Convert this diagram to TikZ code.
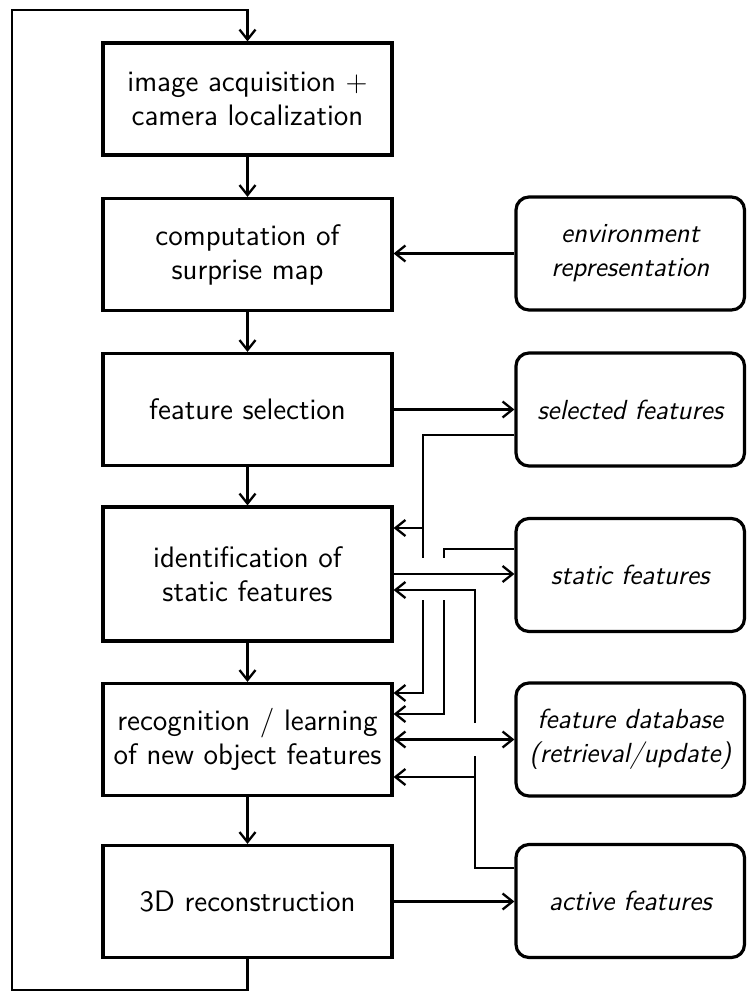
\documentclass[tikz,border=0pt]{standalone}
\usetikzlibrary{arrows.meta}
\begin{document}
\begin{tikzpicture}[x=0.5pt,y=-0.5pt,
  >={Straight Barb[length=5pt,width=8pt]},
  proc/.style={draw, line width=1.6pt, minimum width=144.5pt, minimum height=56pt,
    align=center, inner sep=1pt, font=\sffamily\fontsize{14.8}{17}\selectfont},
  store/.style={draw, rounded corners=6.5pt, line width=1.6pt, minimum width=114.25pt,
    minimum height=56.5pt, align=center, inner sep=1pt,
    font=\sffamily\itshape\fontsize{13.8}{17}\selectfont},
  flow/.style={line width=1.15pt, ->},
  link/.style={line width=1.15pt}]
\useasboundingbox (0,0) rectangle (746,992);

% processing steps
\node[proc] (b1) at (247.5,99) {image acquisition $+$\\camera localization};
\node[proc] (b2) at (247.5,254.5) {computation of\\surprise map};
\node[proc] (b3) at (247.5,409.5) {feature selection};
\node[proc, minimum height=67pt] (b4) at (247.5,574) {identification of\\static features};
\node[proc] (b5) at (247.5,739.5) {recognition / learning\\of new object features};
\node[proc] (b6) at (247.5,901.5) {3D reconstruction};

% data stores
\node[store] (env)  at (630.25,253.5) {environment\\representation};
\node[store] (sel)  at (630.25,409.5) {selected features};
\node[store] (stat) at (630.25,575) {static features};
\node[store] (fdb)  at (630.25,739.5) {feature database\\(retrieval/update)};
\node[store] (act)  at (630.25,901) {active features};

% main chain
\foreach \a/\b in {b1/b2,b2/b3,b3/b4,b4/b5,b5/b6}
  \draw[flow] (\a) -- (\b);

% loop back to the top
\coordinate (lb) at (247.5,990);
\coordinate (lbl) at (12,990);
\coordinate (ltl) at (12,10);
\coordinate (lt) at (247.5,10);
\draw[flow] (b6.south) -- (lb) -- (lbl) -- (ltl) -- (lt) -- (b1.north);

% straight links to the stores
\draw[flow] (env.west) -- (env.west -| b2.east);
\draw[flow] (b3.east) -- (b3.east -| sel.west);
\draw[flow] (b4.east) -- (b4.east -| stat.west);
\draw[flow, <->] (b5.east) -- (b5.east -| fdb.west);
\draw[flow] (b6.east) -- (b6.east -| act.west);

% selected features back into identification and recognition
\coordinate (s1) at (423,435);
\coordinate (s2) at (423,558);
\coordinate (s3) at (423,600);
\coordinate (s4) at (423,693);
\coordinate (s5) at (423,528);
\draw[link] (sel.west |- s1) -- (s1) -- (s2);
\draw[flow] (s3) -- (s4) -- (s4 -| b5.east);
\draw[flow] (s5) -- (s5 -| b4.east);

% static features into recognition
\coordinate (t1) at (444,549);
\coordinate (t2) at (444,558);
\coordinate (t3) at (444,600);
\coordinate (t4) at (444,714);
\draw[link] (stat.west |- t1) -- (t1) -- (t2);
\draw[flow] (t3) -- (t4) -- (t4 -| b5.east);

% active features into identification and recognition
\coordinate (a1) at (475,868);
\coordinate (a2) at (475,756);
\coordinate (a3) at (475,723);
\coordinate (a4) at (475,590);
\coordinate (a5) at (475,777);
\draw[link] (act.west |- a1) -- (a1) -- (a2);
\draw[flow] (a5) -- (a5 -| b5.east);
\draw[flow] (a3) -- (a4) -- (a4 -| b4.east);
\end{tikzpicture}
\end{document}
